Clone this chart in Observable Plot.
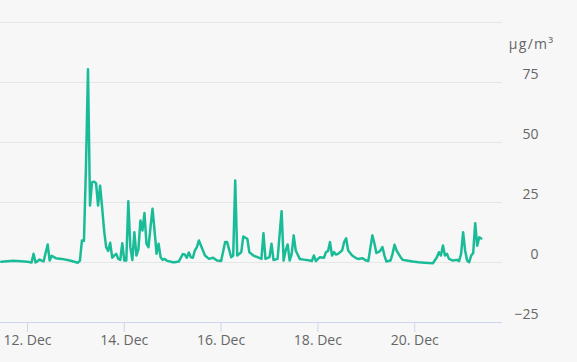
<!DOCTYPE html>
<html>
<head>
<meta charset="utf-8">
<script src="https://cdn.jsdelivr.net/npm/d3@7"></script>
<script src="https://cdn.jsdelivr.net/npm/@observablehq/plot@0.6"></script>
<style>
  html, body { margin: 0; padding: 0; background: #f7f7f7; }
  #chart svg { display: block; }
</style>
</head>
<body>
<div id="chart"></div>
<script>
// Hourly readings (UTC), µg/m³
const times = [
  "2019-12-11T11","2019-12-11T17",
  "2019-12-12T00","2019-12-12T02","2019-12-12T03","2019-12-12T04","2019-12-12T06","2019-12-12T07","2019-12-12T08",
  "2019-12-12T10","2019-12-12T11","2019-12-12T12","2019-12-12T14","2019-12-12T17","2019-12-12T21",
  "2019-12-13T01","2019-12-13T02","2019-12-13T03","2019-12-13T04","2019-12-13T05","2019-12-13T06","2019-12-13T07",
  "2019-12-13T08","2019-12-13T09","2019-12-13T10","2019-12-13T11","2019-12-13T12","2019-12-13T13","2019-12-13T14",
  "2019-12-13T15","2019-12-13T16","2019-12-13T17","2019-12-13T18","2019-12-13T19","2019-12-13T20","2019-12-13T21",
  "2019-12-13T22","2019-12-13T23",
  "2019-12-14T00","2019-12-14T01","2019-12-14T02","2019-12-14T03","2019-12-14T04","2019-12-14T05","2019-12-14T06",
  "2019-12-14T07","2019-12-14T08","2019-12-14T09","2019-12-14T10","2019-12-14T11","2019-12-14T12","2019-12-14T13",
  "2019-12-14T14","2019-12-14T15","2019-12-14T16","2019-12-14T17","2019-12-14T18","2019-12-14T19","2019-12-14T20",
  "2019-12-14T21",
  "2019-12-15T00","2019-12-15T01","2019-12-15T03","2019-12-15T05","2019-12-15T06","2019-12-15T07","2019-12-15T08",
  "2019-12-15T09","2019-12-15T10","2019-12-15T11","2019-12-15T12","2019-12-15T13","2019-12-15T15","2019-12-15T16",
  "2019-12-15T18","2019-12-15T20","2019-12-15T22",
  "2019-12-16T00","2019-12-16T02","2019-12-16T03","2019-12-16T05","2019-12-16T06","2019-12-16T07","2019-12-16T08",
  "2019-12-16T10","2019-12-16T11","2019-12-16T13","2019-12-16T14","2019-12-16T16","2019-12-16T18","2019-12-16T20",
  "2019-12-16T21","2019-12-16T22",
  "2019-12-17T00","2019-12-17T01","2019-12-17T02","2019-12-17T04","2019-12-17T06","2019-12-17T07","2019-12-17T08",
  "2019-12-17T09","2019-12-17T10","2019-12-17T11","2019-12-17T12","2019-12-17T13","2019-12-17T15","2019-12-17T17",
  "2019-12-17T20","2019-12-17T21","2019-12-17T22","2019-12-17T23",
  "2019-12-18T00","2019-12-18T01","2019-12-18T03","2019-12-18T04","2019-12-18T05","2019-12-18T06","2019-12-18T07",
  "2019-12-18T08","2019-12-18T09","2019-12-18T10","2019-12-18T12","2019-12-18T13","2019-12-18T14","2019-12-18T15",
  "2019-12-18T17","2019-12-18T19","2019-12-18T20","2019-12-18T22",
  "2019-12-19T00","2019-12-19T01","2019-12-19T03","2019-12-19T04","2019-12-19T05","2019-12-19T06","2019-12-19T07",
  "2019-12-19T08","2019-12-19T09","2019-12-19T10","2019-12-19T12","2019-12-19T13","2019-12-19T14","2019-12-19T15",
  "2019-12-19T17","2019-12-19T18","2019-12-19T20","2019-12-19T23",
  "2019-12-20T02","2019-12-20T05","2019-12-20T09","2019-12-20T11","2019-12-20T12","2019-12-20T13","2019-12-20T14",
  "2019-12-20T15","2019-12-20T16","2019-12-20T17","2019-12-20T19","2019-12-20T21","2019-12-20T22","2019-12-20T23",
  "2019-12-21T00","2019-12-21T01","2019-12-21T02","2019-12-21T03","2019-12-21T04","2019-12-21T05","2019-12-21T06",
  "2019-12-21T07","2019-12-21T08","2019-12-21T09"
];
const values = [
  0.3, 0.7,
  0.3, 0, 3.6, 0, 1.2, 0.8, 0.5,
  7.5, 0.8, 2.8, 1.8, 1.5, 0.8,
  -0.1, 0.8, 9.2, 9, 40, 80.5, 23.7,
  33.5, 33.7, 33, 23.7, 32, 23, 13.3,
  6.4, 4.8, 8.2, 2, 2.9, 3.6, 1.5,
  1.1, 8,
  0.8, 0.8, 25.5, 6.4, 1, 12.6, 2.9,
  5.5, 17.5, 13.3, 20.6, 7.8, 6.4, 14.7,
  22.4, 13.3, 3.6, 7.8, 2.2, 1.1, 1.5,
  0.8,
  0.1, 0.1, 0.4, 3.5, 3.3, 2, 4.2,
  2.2, 2, 5, 6.4, 9.2, 5, 2.9,
  1.5, 2, 0.8,
  0.6, 8.5, 8.5, 2.2, 2.9, 34.2, 2.9,
  4.3, 10.8, 9.9, 4.3, 2.9, 2.2, 1.5,
  12.2, 1.5,
  2.2, 7.8, 1, 1.5, 21.4, 0.8, 5,
  7.5, 0.8, 3.6, 11.3, 5, 1.5, 1.2,
  0.8, 0.6, 2.9, 0.6,
  1.5, 2.2, 2, 4.3, 4.7, 8.5, 2.9,
  4.3, 3.3, 3.6, 5, 8.5, 10.1, 5,
  2.9, 1.8, 1.5, 1.8,
  0.8, 0.6, 11.3, 8, 4, 4.3, 5,
  6.4, 2.9, 0.4, 0.8, 3.6, 7.4, 5,
  2.2, 1.1, 0.8, 0.4,
  0.1, -0.1, -0.3, 2.2, 4.3, 2.9, 7.1,
  2.9, 3.6, 1.5, 0.8, 1.1, 0.6, 3.6,
  12.6, 5, 0.8, 0.1, 2.9, 3.9, 16.4,
  7, 10.5, 10
];
const xTickDates = ["2019-12-12", "2019-12-14", "2019-12-16", "2019-12-18", "2019-12-20"];
const gridValues = [100, 75, 50, 25, 0];
const yTickValues = [75, 50, 25, 0, -25];
const unitLabel = "µg/m³";

const parseHour = d3.utcParse("%Y-%m-%dT%H");
const parseDay = d3.utcParse("%Y-%m-%d");
const xs = times.map(parseHour);
const xTicks = xTickDates.map(parseDay);
const fmt = d3.utcFormat("%-d. %b");

const FONT = "'Open Sans', sans-serif";
const chart = Plot.plot({
  width: 577,
  height: 362,
  marginLeft: 0,
  marginRight: 75,
  marginTop: 22,
  marginBottom: 40,
  style: { background: "#f7f7f7", fontFamily: FONT, fontSize: "14px", color: "#666" },
  x: {
    type: "utc",
    domain: [new Date("2019-12-11T10:37Z"), new Date("2019-12-21T19:32Z")],
    axis: null
  },
  y: { domain: [-25, 100], axis: null },
  marks: [
    Plot.ruleY(gridValues, { stroke: "#e6e6e6", strokeWidth: 1 }),
    Plot.ruleY([-25], { stroke: "#ccd6eb", strokeWidth: 1 }),
    Plot.axisX({
      ticks: xTicks,
      tickFormat: fmt,
      tickSize: 10,
      tickPadding: 3,
      stroke: "#ccd6eb",
      fill: "#666",
      fontSize: 14,
      label: null
    }),
    Plot.line(values, {
      x: xs,
      y: values,
      stroke: "#1abc98",
      strokeWidth: 2.5,
      strokeLinejoin: "round",
      curve: "linear"
    }),
    Plot.text(yTickValues, {
      y: d => d,
      frameAnchor: "right",
      dx: 36,
      dy: -7.5,
      textAnchor: "end",
      fill: "#666",
      fontSize: 14,
      text: d => d < 0 ? "−" + Math.abs(d) : String(d)
    }),
    Plot.text([unitLabel], {
      frameAnchor: "top-right",
      dx: 52,
      dy: 22,
      textAnchor: "end",
      lineAnchor: "middle",
      fill: "#666",
      fontSize: 14,
      className: "unit-label",
      text: d => d
    })
  ]
});
d3.select(chart).selectAll("text")
  .filter(function () { return this.textContent === unitLabel; })
  .attr("letter-spacing", "1.3");
document.getElementById("chart").appendChild(chart);
</script>
</body>
</html>
